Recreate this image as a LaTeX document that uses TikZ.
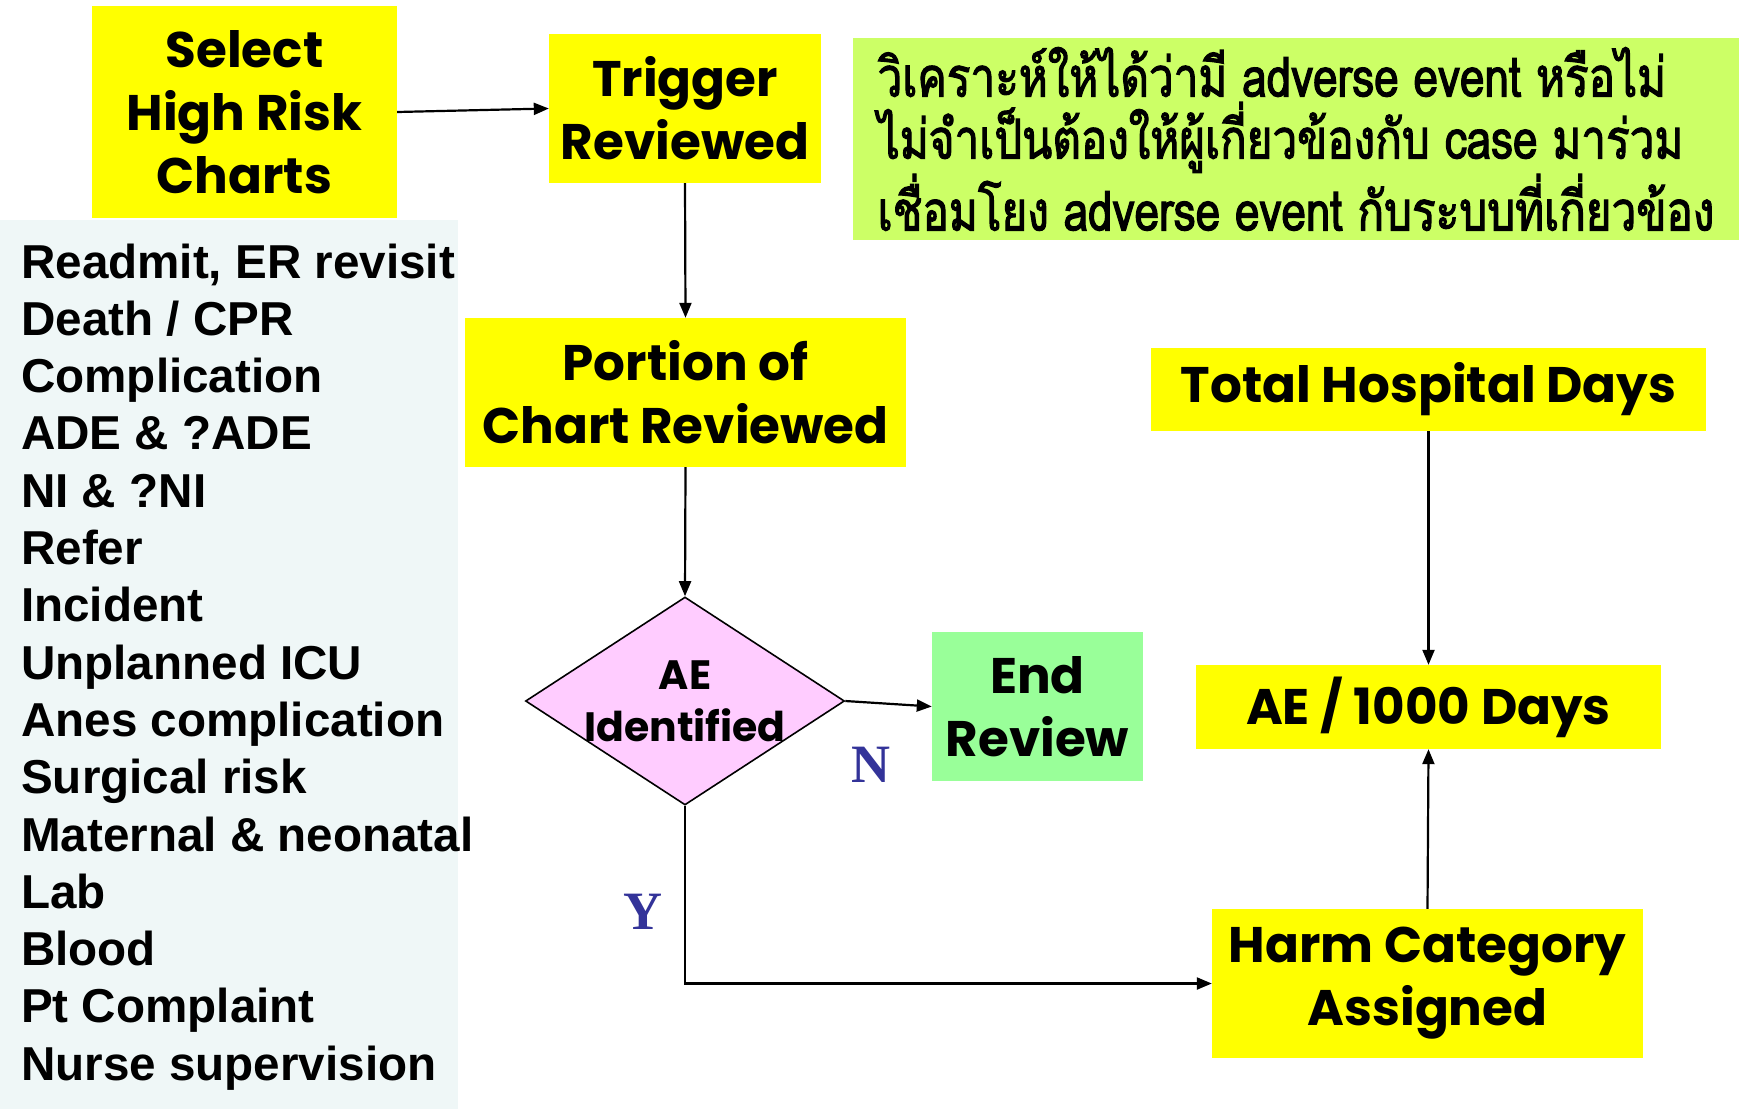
\documentclass[tikz,border=0pt]{standalone}
\usepackage{fontspec}
\setmainfont{Liberation Sans}
\newfontfamily\boxfont{Poppins}
\newfontfamily\thaifont[Script=Thai,FakeStretch=0.8,FakeBold=2]{Loma}
\newfontfamily\ynfont{Liberation Serif}
\usetikzlibrary{shapes.geometric,arrows.meta}
\definecolor{boxyellow}{HTML}{FFFF00}
\definecolor{notegreen}{HTML}{CCFF66}
\definecolor{listbg}{HTML}{EFF7F7}
\definecolor{endgreen}{HTML}{99FF99}
\definecolor{decpink}{HTML}{FFCCFF}
\definecolor{ynblue}{HTML}{333399}
\begin{document}
\begin{tikzpicture}[x=1pt,y=-1pt,
  stepbox/.style={fill=boxyellow, draw=none, inner sep=0pt, align=center,
    font=\boxfont\bfseries\fontsize{50}{63}\selectfont},
  flow/.style={line width=2.2pt, -{Triangle[length=15pt,width=12pt]}},
  yn/.style={font=\ynfont\bfseries\fontsize{54}{60}\selectfont, text=ynblue, inner sep=0pt},
  listitem/.style={anchor=base west, inner sep=0pt,
    font=\bfseries\fontsize{47.6}{57}\selectfont}]

\useasboundingbox (0,0) rectangle (1739,1109);
\fill[white] (0,0) rectangle (1739,1109);

% trigger list panel
\node[fill=listbg, inner sep=0pt, minimum width=458pt, minimum height=889pt] (panel) at (229,664.5) {};
\foreach \t [count=\i] in {Readmit{,} ER revisit, Death / CPR, Complication, ADE \& ?ADE,
    NI \& ?NI, Refer, Incident, Unplanned ICU, Anes complication, Surgical risk,
    Maternal \& neonatal, Lab, Blood, Pt Complaint, Nurse supervision}
  \node[listitem] (item\i) at (21,{278+57.3*(\i-1)}) {\t};

% process boxes
\node[stepbox, minimum width=305pt, minimum height=212pt] (select) at (244.5,112) {Select\\High Risk\\Charts};
\node[stepbox, minimum width=272pt, minimum height=149pt] (trigger) at (685,108.5) {Trigger\\Reviewed};
\node[stepbox, minimum width=441pt, minimum height=149pt] (portion) at (685.5,392.5) {Portion of\\Chart Reviewed};
\node[stepbox, minimum width=555pt, minimum height=83pt] (total) at (1428.5,389.5) {Total Hospital Days};
\node[stepbox, minimum width=465pt, minimum height=84pt] (rate) at (1428.5,707) {AE / 1000 Days};
\node[stepbox, minimum width=431pt, minimum height=149pt] (harm) at (1427.5,983.5) {Harm Category\\Assigned};
\node[stepbox, fill=endgreen, minimum width=211pt, minimum height=149pt] (endrev) at (1037.5,706.5) {End\\Review};

% decision
\node[diamond, draw, line width=1.6pt, fill=decpink, inner sep=0pt, aspect=1.534,
  minimum width=319pt, minimum height=208pt,
  label={[font=\boxfont\bfseries\fontsize{41}{52}\selectfont, align=center, inner sep=0pt]center:AE\\Identified}]
  (ae) at (685,701) {};

% note
\node[fill=notegreen, minimum width=886pt, minimum height=202pt, inner sep=0pt,
  align=left, font=\thaifont\fontsize{55}{62}\selectfont]
  (note) at (1296,139) {วิเคราะห์ให้ได้ว่ามี adverse event หรือไม่\\ไม่จำเป็นต้องให้ผู้เกี่ยวข้องกับ case มาร่วม\\เชื่อมโยง adverse event กับระบบที่เกี่ยวข้อง};

% connectors
\draw[flow] (select.east) -- (trigger.west);
\draw[flow] (trigger.south) -- (portion.north);
\draw[flow] (portion.south) -- (ae.north);
\draw[flow] (ae.east) -- (endrev.west);
\draw[flow] (ae.south) |- (harm.west);
\draw[flow] (total.south) -- (rate.north);
\draw[flow] (harm.north) -- (rate.south);

\node[yn] (nlab) at (871,765) {N};
\node[yn] (ylab) at (643,912) {Y};
\end{tikzpicture}
\end{document}
